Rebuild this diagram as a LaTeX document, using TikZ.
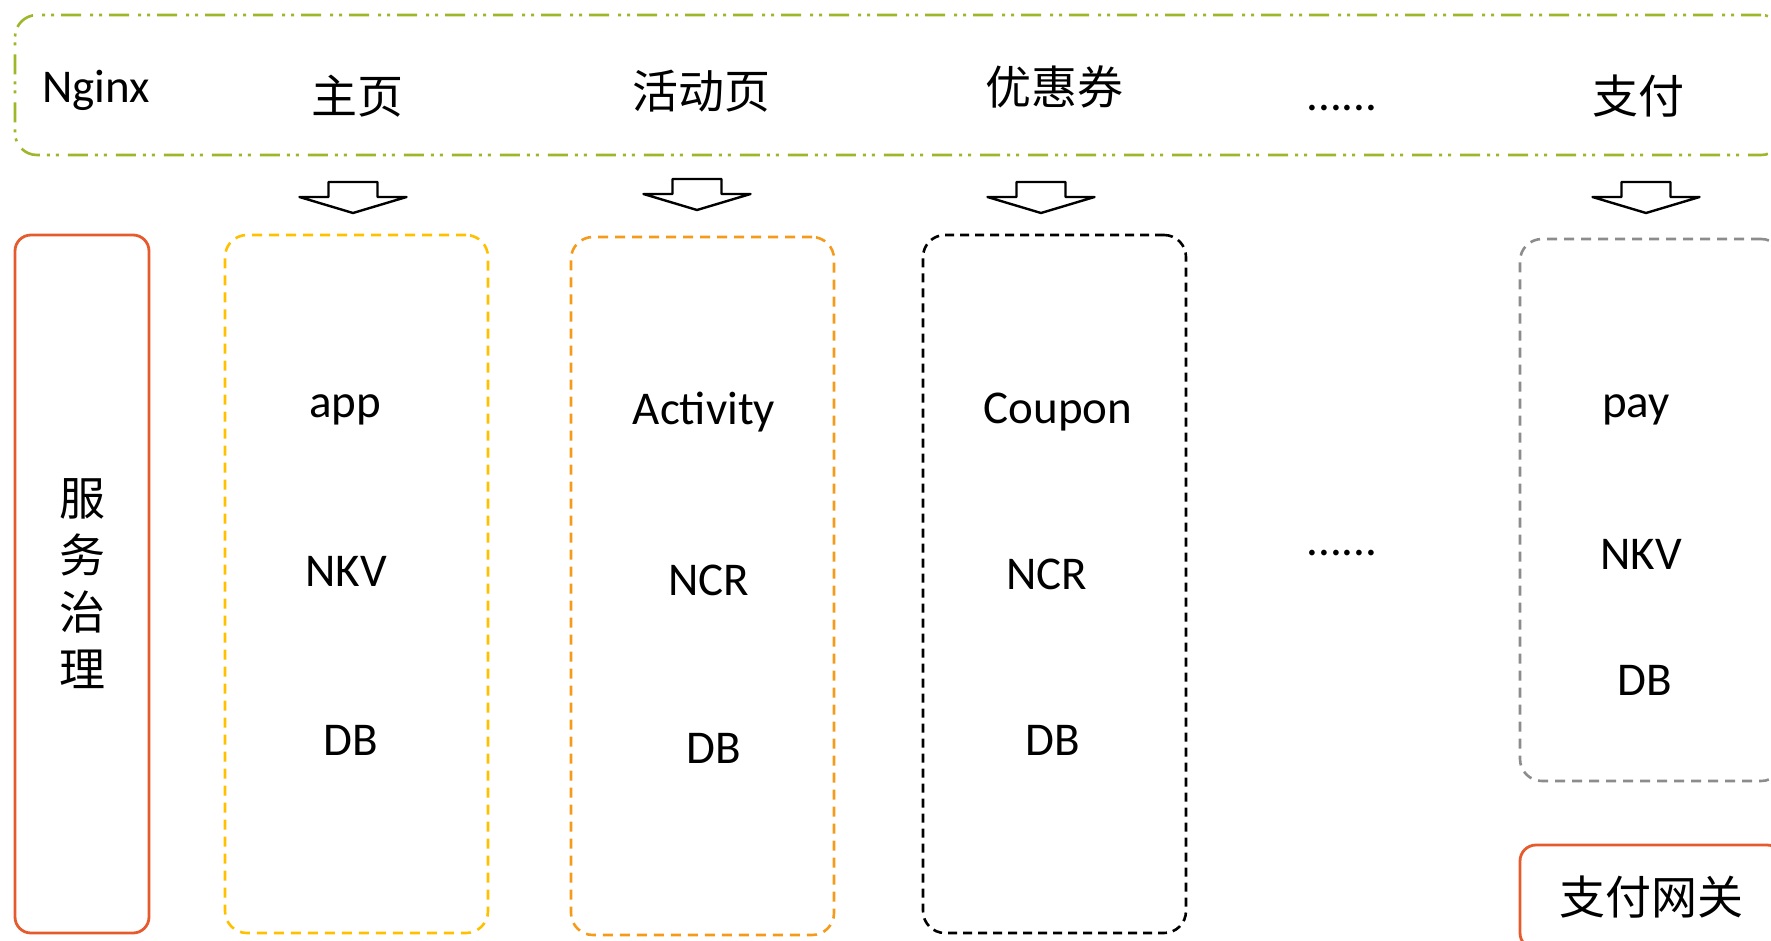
\documentclass[tikz,border=0pt]{standalone}
\usepackage{fontspec}
\setmainfont{Carlito}
\newfontfamily\cjk{Noto Sans CJK SC}
\usetikzlibrary{positioning}
\definecolor{nginxGreen}{HTML}{9DB62A}
\definecolor{govRed}{HTML}{E55B2D}
\definecolor{homeYellow}{HTML}{FFC000}
\definecolor{actOrange}{HTML}{F59B1C}
\definecolor{payGray}{HTML}{8C8C8C}
% hollow down arrow, #1 = name of its tip, #2 = where the tip is
\newcommand{\downblock}[2]{
    \coordinate (#1) at #2;
    \draw [line width=2.4pt, line join=round] (#1) ++(-24.5,-31) -- ++(49,0) -- ++(0,15) -- ++(29,0) -- (#1) -- ++(-53.5,-16) -- ++(29,0) -- cycle;
}

\begin{document}
\begin{tikzpicture}[x=1pt, y=-1pt, inner sep=0pt,
    latin/.style={font=\fontsize{47}{56}\selectfont, anchor=base},
    hanzi/.style={font=\cjk\fontsize{46}{57}\selectfont},
    col/.style={draw, rounded corners=22pt, line width=2.6pt, dash pattern=on 10pt off 7pt, minimum width=263pt},
    redbox/.style={draw=govRed, rounded corners=16pt, line width=2.8pt}]

    \useasboundingbox (0,0) rectangle (1771,940);

    % entry layer
    \node (nginx) [draw=nginxGreen, line width=2.6pt, rounded corners=22pt, dash pattern=on 20pt off 7pt on 3pt off 6pt on 3pt off 9pt, minimum width=1768pt, minimum height=140pt] at (899,85) {};
    \node (nginxT) [latin, anchor=base west] at (42,102) {Nginx};
    \node (homeT) [hanzi] at (357,96) {主页};
    \node (actT) [hanzi] at (701,91) {活动页};
    \node (couponT) [hanzi] at (1054,87) {优惠券};
    \node (moreT) [latin] at (1342,110) {......};
    \node (payT) [hanzi] at (1638,96) {支付};

    \downblock{homeArr}{(353,213)}
    \downblock{actArr}{(697,210)}
    \downblock{couponArr}{(1041,213)}
    \downblock{payArr}{(1646,213)}

    % service columns
    \node (gov) [redbox, hanzi, align=center, minimum width=134pt, minimum height=698pt] at (82,584) {服\\务\\治\\理};

    \node (home) [col, draw=homeYellow, minimum height=698pt] at (356.5,584) {};
    \node (homeApp) [latin] at (345,417) {app};
    \node (homeKV) [latin] at (346,586) {NKV};
    \node (homeDB) [latin] at (351,755) {DB};

    \node (act) [col, draw=actOrange, minimum height=698pt] at (702.5,586) {};
    \node (actApp) [latin] at (704,424) {Activity};
    \node (actCR) [latin] at (709,595) {NCR};
    \node (actDB) [latin] at (714,763) {DB};

    \node (coupon) [col, draw=black, dash pattern=on 9pt off 6pt, minimum height=698pt] at (1054.5,584) {};
    \node (couponApp) [latin] at (1058,423) {Coupon};
    \node (couponCR) [latin] at (1047,589) {NCR};
    \node (couponDB) [latin] at (1053,755) {DB};

    \node (moreM) [latin] at (1342,555) {......};

    \node (pay) [col, draw=payGray, minimum height=542pt] at (1651.5,510) {};
    \node (payApp) [latin] at (1636,417) {pay};
    \node (payKV) [latin] at (1641,569) {NKV};
    \node (payDB) [latin] at (1645,695) {DB};

    \node (gateway) [redbox, hanzi, minimum width=263pt, minimum height=104pt] at (1651.5,897) {支付网关};
\end{tikzpicture}
\end{document}
